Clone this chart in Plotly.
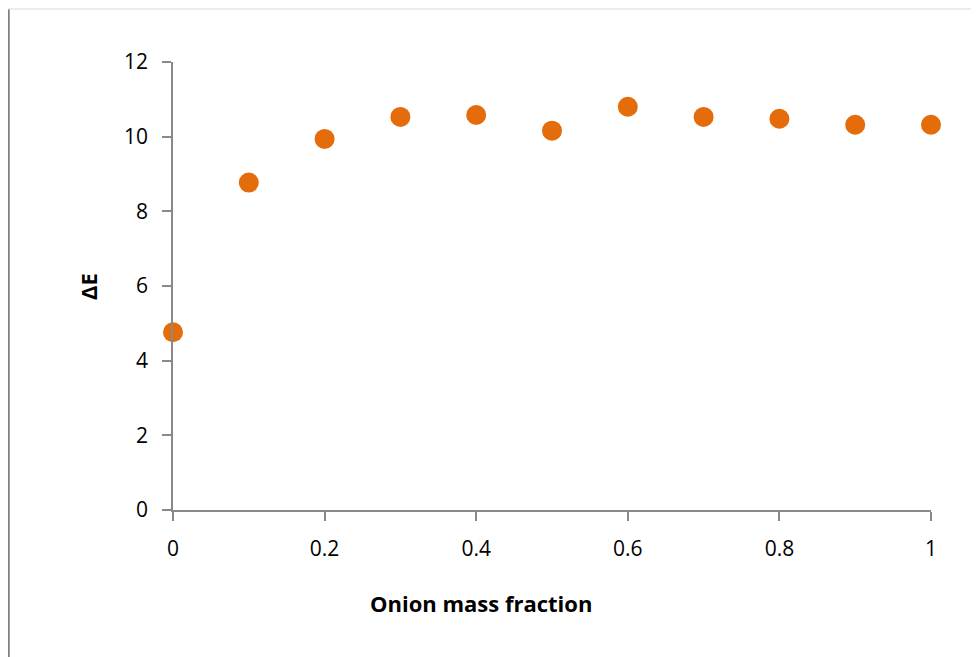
import plotly.graph_objects as go

onion_fraction = [0.0, 0.1, 0.2, 0.3, 0.4, 0.5, 0.6, 0.7, 0.8, 0.9, 1.0]
delta_e = [4.76, 8.77, 9.94, 10.53, 10.58, 10.16, 10.80, 10.53, 10.48, 10.32, 10.32]

# page body has an 8px margin; work in figure coordinates
OFF = 8
W, H = 979, 657
L, R, T, B = 173 - OFF, 931 - OFF, 62 - OFF, 510 - OFF

def px(x):
    return (x - OFF - L) / (R - L)

def py(y):
    return (B - (y - OFF)) / (B - T)

FONT = "Open Sans, Lato, Liberation Sans"

fig = go.Figure()
fig.add_trace(go.Scatter(
    x=onion_fraction, y=delta_e, mode="markers",
    marker=dict(size=20, color="#E46C0A", line=dict(width=0)),
    cliponaxis=False, showlegend=False,
))

axis_common = dict(
    showgrid=False, zeroline=False, showline=True,
    linecolor="#898989", linewidth=1.5,
    ticks="outside", ticklen=9, tickwidth=1.5, tickcolor="#898989",
    tickfont=dict(family=FONT, size=21, color="#000000"),
)

fig.update_layout(
    width=W, height=H,
    margin=dict(l=L, r=W - R, t=T, b=H - B),
    plot_bgcolor="white", paper_bgcolor="white",
    xaxis=dict(range=[0, 1], dtick=0.2, tick0=0, ticklabelstandoff=10, **axis_common),
    yaxis=dict(range=[0, 12], dtick=2, tick0=0, ticklabelstandoff=10, **axis_common),
    annotations=[
        dict(text="<b>Onion mass fraction</b>", xref="paper", yref="paper",
             x=px(481), y=py(603), xanchor="center", yanchor="middle", showarrow=False,
             font=dict(family=FONT, size=22, color="#000000")),
        dict(text="<b>ΔE</b>", xref="paper", yref="paper",
             x=px(88), y=py(287), xanchor="center", yanchor="middle", showarrow=False,
             textangle=-90,
             font=dict(family=FONT, size=22, color="#000000")),
    ],
    shapes=[
        dict(type="line", xref="paper", yref="paper",
             x0=px(8.5), x1=px(8.5), y0=py(9), y1=py(670),
             line=dict(color="#808080", width=2.5)),
        dict(type="line", xref="paper", yref="paper",
             x0=px(8), x1=px(1000), y0=py(9), y1=py(9),
             line=dict(color="#d9d9d9", width=1)),
    ],
)

fig.write_html("out.html")
